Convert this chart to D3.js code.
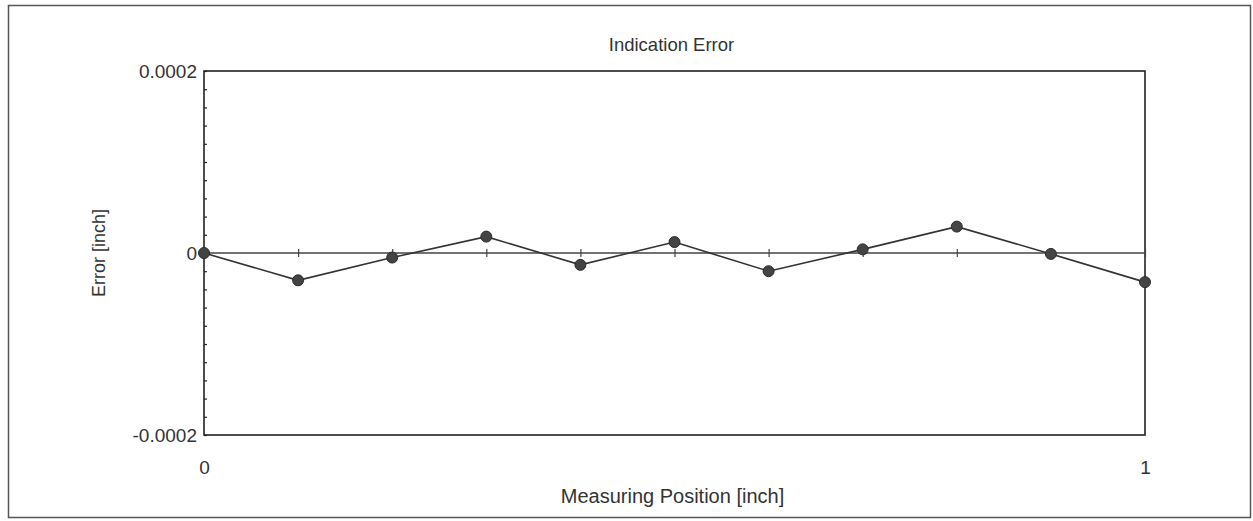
<!DOCTYPE html>
<html>
<head>
<meta charset="utf-8">
<script src="https://cdn.jsdelivr.net/npm/d3@7"></script>
<style>
  body { margin: 0; background: #fff; }
  svg { display: block; font-family: Arial, "Liberation Sans", sans-serif; }
  .y-axis .domain, .x-axis .domain { display: none; }
</style>
</head>
<body>
<svg width="1253" height="521"></svg>
<script>
// measured positions along the part (inch)
const positions = [0, 0.1, 0.2, 0.3, 0.4, 0.5, 0.6, 0.7, 0.8, 0.9, 1]
// indication error at each position (inch)
const errors = [0, -0.00003, -0.000005, 0.000018, -0.000013, 0.000012, -0.00002, 0.000004, 0.000029, -0.000001, -0.000032]
const yTickLabels = ['-0.0002', '0', '0.0002']
const xTickLabels = ['0', '1']

const dim = {
    width: 1253,
    height: 521,
    margin: {top: 71, right: 108, bottom: 86, left: 204}
}

const svg = d3.select('svg')

// outer frame of the scanned sheet
svg.append('rect')
    .attr('x', 8.5).attr('y', 5.5)
    .attr('width', 1242).attr('height', 512)
    .attr('fill', 'none')
    .attr('stroke', '#555')
    .attr('stroke-width', 1.5)

const x = d3.scaleLinear()
    .domain([0, 1])
    .range([dim.margin.left, dim.width - dim.margin.right])

const y = d3.scaleLinear()
    .domain([-0.0002, 0.0002])
    .range([dim.height - dim.margin.bottom, dim.margin.top])

// plot box
svg.append('rect')
    .attr('x', x(0)).attr('y', y(0.0002))
    .attr('width', x(1) - x(0)).attr('height', y(-0.0002) - y(0.0002))
    .attr('fill', 'none')
    .attr('stroke', '#222')
    .attr('stroke-width', 1.6)

// left axis: minor ticks every 0.00002, labels only at the ends and zero
const yTicks = d3.range(-10, 11).map(i => i * 0.00002)
const yAxis = d3.axisLeft(y)
    .tickValues(yTicks)
    .tickSize(-3)
    .tickPadding(7)
    .tickFormat(d => {
        const k = Math.round(d / 0.0002)
        return Math.abs(d / 0.0002 - k) < 1e-6 ? yTickLabels[k + 1] : ''
    })
svg.append('g')
    .attr('class', 'y-axis')
    .attr('transform', `translate(${x(0)}, 0)`)
    .call(yAxis)
    .call(g => g.selectAll('line').attr('stroke', '#222').attr('stroke-width', 1.2))
    .call(g => g.selectAll('text').attr('fill', '#333').style('font-size', '19px'))

// bottom axis: only end labels
const xAxis = d3.axisBottom(x)
    .tickValues([0, 1])
    .tickSize(0)
    .tickPadding(26)
    .tickFormat((d, i) => xTickLabels[i])
svg.append('g')
    .attr('class', 'x-axis')
    .attr('transform', `translate(0, ${y(-0.0002)})`)
    .call(xAxis)
    .call(g => g.selectAll('text').attr('fill', '#333').style('font-size', '19px'))

// zero line with ticks at each measuring position
svg.append('line')
    .attr('x1', x(0)).attr('x2', x(1))
    .attr('y1', y(0)).attr('y2', y(0))
    .attr('stroke', '#444')
    .attr('stroke-width', 1.6)

const zeroTicks = d3.axisBottom(x)
    .tickValues(positions)
    .tickSize(4)
    .tickFormat('')
svg.append('g')
    .attr('class', 'x-axis')
    .attr('transform', `translate(0, ${y(0)})`)
    .call(zeroTicks)
    .call(g => g.selectAll('line').attr('y1', -4).attr('stroke', '#444').attr('stroke-width', 1.2))

// error line and markers
const line = d3.line()
    .x((d, i) => x(positions[i]))
    .y(d => y(d))

svg.append('path')
    .datum(errors)
    .attr('d', line)
    .attr('fill', 'none')
    .attr('stroke', '#333')
    .attr('stroke-width', 1.6)

svg.append('g')
    .selectAll('circle')
    .data(errors)
    .join('circle')
    .attr('cx', (d, i) => x(positions[i]))
    .attr('cy', d => y(d))
    .attr('r', 5.5)
    .attr('fill', '#444')
    .attr('stroke', '#2a2a2a')
    .attr('stroke-width', 1)

// titles
svg.append('text')
    .attr('x', (x(0) + x(1)) / 2 - 3)
    .attr('y', 51)
    .attr('text-anchor', 'middle')
    .attr('fill', '#333')
    .style('font-size', '18.5px')
    .text('Indication Error')

svg.append('text')
    .attr('x', (x(0) + x(1)) / 2 - 2)
    .attr('y', 503)
    .attr('text-anchor', 'middle')
    .attr('fill', '#333')
    .style('font-size', '20px')
    .text('Measuring Position [inch]')

svg.append('text')
    .attr('transform', `translate(105, ${y(0)}) rotate(-90)`)
    .attr('text-anchor', 'middle')
    .attr('fill', '#333')
    .style('font-size', '18px')
    .text('Error [inch]')
</script>
</body>
</html>
